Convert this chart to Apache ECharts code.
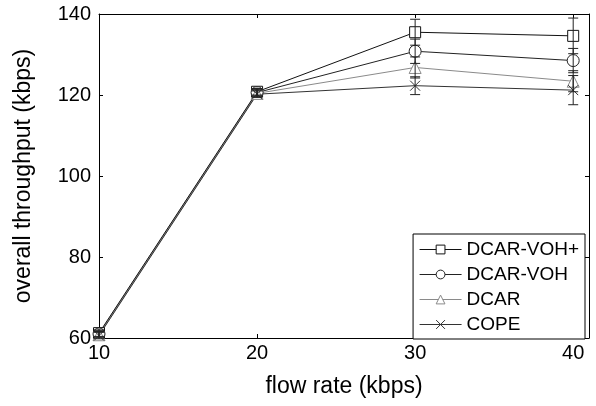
<!DOCTYPE html>
<html>
<head>
<meta charset="utf-8">
<script src="https://cdn.jsdelivr.net/npm/echarts@6/dist/echarts.min.js"></script>
<style>
  html, body { margin: 0; padding: 0; background: #fff; }
  #chart { width: 596px; height: 406px; }
</style>
</head>
<body>
<div id="chart"></div>
<script>
// flow rate (kbps)
const flowRates = [10, 20, 30, 40]

// overall throughput (kbps)
const dcarVohPlus = [61.2, 120.8, 135.5, 134.6]
const dcarVoh = [61.0, 120.6, 130.8, 128.5]
const dcar = [60.8, 120.4, 126.8, 123.4]
const cope = [60.6, 120.2, 122.3, 121.2]

// error bar half-widths
const errVohPlus = [0.8, 0.8, 3.2, 4.4]
const errVoh = [0.8, 0.8, 3.0, 3.0]
const errDcar = [0.8, 0.8, 2.6, 2.6]
const errCope = [0.8, 0.8, 2.2, 3.6]

const xTicks = [10, 20, 30, 40]
const yTicks = [60, 80, 100, 120, 140]

const FONT = 'Liberation Sans, Arial, Helvetica, sans-serif'
const crossPath = 'path://M0,0L10,10M10,0L0,10'

const lineDefs = [
  { name: 'DCAR-VOH+', data: dcarVohPlus, err: errVohPlus, color: '#111', symbol: 'rect', size: 11 },
  { name: 'DCAR-VOH', data: dcarVoh, err: errVoh, color: '#222', symbol: 'circle', size: 12 },
  { name: 'DCAR', data: dcar, err: errDcar, color: '#8a8a8a', symbol: 'triangle', size: 12 },
  { name: 'COPE', data: cope, err: errCope, color: '#333', symbol: crossPath, size: 10 }
]

const chart = echarts.init(document.getElementById('chart'))

// 误差线
const errorSeries = lineDefs.map(d => ({
  type: 'custom',
  name: d.name + ' err',
  xAxisIndex: 0,
  yAxisIndex: 0,
  z: 4,
  silent: true,
  data: flowRates.map((x, i) => [x, d.data[i] - d.err[i], d.data[i] + d.err[i]]),
  renderItem: (params, api) => {
    const lo = api.coord([api.value(0), api.value(1)])
    const hi = api.coord([api.value(0), api.value(2)])
    const w = 5
    const style = { stroke: '#222', lineWidth: 1 }
    return {
      type: 'group',
      children: [
        { type: 'line', shape: { x1: lo[0], y1: lo[1], x2: hi[0], y2: hi[1] }, style },
        { type: 'line', shape: { x1: lo[0] - w, y1: lo[1], x2: lo[0] + w, y2: lo[1] }, style },
        { type: 'line', shape: { x1: hi[0] - w, y1: hi[1], x2: hi[0] + w, y2: hi[1] }, style }
      ]
    }
  }
}))

const lineSeries = lineDefs.map(d => ({
  type: 'line',
  name: d.name,
  xAxisIndex: 0,
  yAxisIndex: 0,
  z: 3,
  data: flowRates.map((x, i) => [x, d.data[i]]),
  symbol: d.symbol,
  symbolSize: d.size,
  showAllSymbol: true,
  lineStyle: { color: d.color, width: 1 },
  itemStyle: { color: '#fff', borderColor: d.color, borderWidth: 1 },
  emphasis: { disabled: true }
}))

const axisCommon = {
  axisLine: { show: true, lineStyle: { color: '#000', width: 1 } },
  axisTick: { show: true, inside: true, length: 4, lineStyle: { color: '#000' } },
  splitLine: { show: false }
}

const option = {
  animation: false,
  backgroundColor: '#fff',
  textStyle: { fontFamily: FONT },
  grid: { left: 99, right: 7, top: 14, bottom: 68 },
  legend: {
    data: lineDefs.map(d => d.name),
    orient: 'vertical',
    right: 11,
    top: 234,
    itemWidth: 42,
    itemHeight: 11,
    itemGap: 6,
    padding: [6, 6, 5, 6],
    backgroundColor: '#fff',
    borderColor: '#000',
    borderWidth: 1,
    borderRadius: 0,
    selectedMode: false,
    itemStyle: { borderWidth: 1 },
    lineStyle: { width: 1 },
    textStyle: { fontFamily: FONT, fontSize: 19, color: '#000', lineHeight: 19, padding: [0, 0, 0, 0] }
  },
  xAxis: [
    {
      ...axisCommon,
      type: 'value',
      min: 10,
      max: 41,
      interval: 10,
      name: 'flow rate (kbps)',
      nameLocation: 'middle',
      nameGap: 37,
      nameTextStyle: { fontFamily: FONT, fontSize: 23, color: '#000' },
      axisLabel: {
        color: '#000', fontSize: 20, fontFamily: FONT, margin: 5,
        formatter: v => (xTicks.includes(v) ? String(v) : '')
      }
    },
    {
      ...axisCommon,
      type: 'value',
      position: 'top',
      min: 10,
      max: 41,
      interval: 10,
      axisLabel: { show: false }
    }
  ],
  yAxis: [
    {
      ...axisCommon,
      type: 'value',
      min: 60,
      max: 140,
      interval: 20,
      name: 'overall throughput (kbps)',
      nameLocation: 'middle',
      nameGap: 64,
      nameTextStyle: { fontFamily: FONT, fontSize: 23, color: '#000' },
      axisLabel: {
        color: '#000', fontSize: 20, fontFamily: FONT, margin: 8,
        formatter: v => (yTicks.includes(v) ? String(v) : '')
      }
    },
    {
      ...axisCommon,
      type: 'value',
      position: 'right',
      min: 60,
      max: 140,
      interval: 20,
      axisLabel: { show: false }
    }
  ],
  series: [...errorSeries, ...lineSeries]
}

chart.setOption(option)
</script>
</body>
</html>
